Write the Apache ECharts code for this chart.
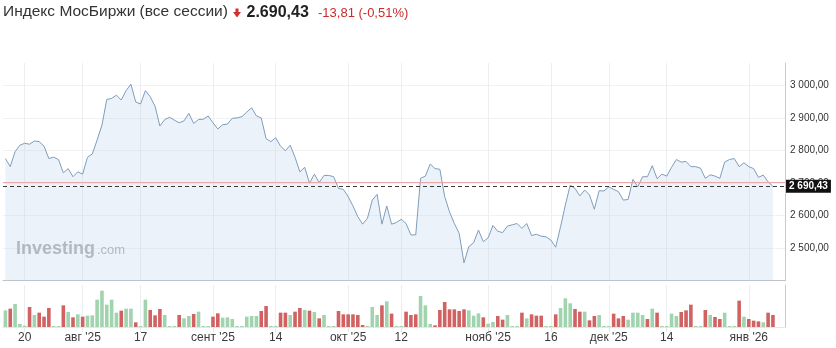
<!DOCTYPE html>
<html><head><meta charset="utf-8">
<script src="https://cdn.jsdelivr.net/npm/echarts@6/dist/echarts.min.js"></script>
<style>html,body{margin:0;padding:0;background:#fff}#c{width:836px;height:348px}</style>
</head><body><div id="c"></div>
<script>
// ---- data ----
const closes = [
  2776,2751,2797,2817,2823,2820,2830,2828,2814,2776,
  2780,2773,2732,2745,2720,2735,2728,2780,2790,2833,
  2879,2958,2961,2971,2956,2985,3005,2950,2944,2985,
  2966,2937,2876,2896,2903,2894,2886,2892,2915,2884,
  2896,2897,2907,2886,2867,2880,2882,2900,2901,2905,
  2919,2932,2907,2901,2837,2828,2840,2814,2800,2817,
  2780,2735,2749,2700,2728,2702,2724,2724,2720,2684,
  2681,2659,2630,2597,2574,2592,2648,2666,2574,2630,
  2574,2579,2589,2576,2541,2541,2715,2722,2759,2745,
  2743,2659,2612,2576,2546,2455,2505,2517,2556,2520,
  2532,2570,2552,2548,2568,2572,2576,2561,2576,2539,
  2543,2537,2535,2525,2503,2566,2633,2694,2684,2661,
  2679,2664,2620,2677,2676,2689,2681,2674,2648,2650,
  2712,2689,2720,2720,2754,2714,2728,2722,2749,2773,
  2765,2767,2751,2751,2746,2715,2726,2722,2715,2765,
  2773,2776,2751,2763,2751,2745,2718,2725,2704.24,2690.43
];
const volumes = [
  50,55,69,9,4,60,36,43,31,57,
  3,3,65,45,29,38,31,34,35,82,
  109,67,82,43,49,55,55,14,3,82,
  51,35,54,36,3,3,36,26,33,39,
  46,3,3,31,41,28,29,24,3,3,
  31,33,33,48,63,3,3,43,43,36,
  46,57,51,49,45,26,36,3,3,48,
  38,38,38,36,6,3,60,36,65,77,
  40,3,3,46,36,38,93,65,9,5,
  51,75,53,53,48,53,50,34,41,29,
  10,15,33,22,36,3,3,43,26,38,
  34,34,3,3,38,57,86,71,54,46,
  46,20,33,36,3,3,40,26,33,22,
  43,43,36,24,55,43,3,3,40,33,
  45,50,67,3,3,51,36,30,24,43,
  3,3,79,31,24,19,17,14,43,36
];
const volumeDir = [
  'u','d','u','u','u','d','u','d','d','d',
  'u','u','d','u','d','u','d','u','u','u',
  'u','u','u','u','d','u','u','d','u','u',
  'd','d','d','u','u','u','d','u','u','d',
  'u','u','u','d','d','u','u','u','u','u',
  'u','u','u','d','d','u','u','d','d','u',
  'd','d','u','d','u','d','u','u','u','d',
  'd','d','d','d','d','u','u','u','d','u',
  'd','u','u','d','d','d','u','u','u','d',
  'd','d','d','d','d','d','u','u','u','d',
  'u','u','d','d','u','u','u','d','u','d',
  'd','d','u','u','d','u','u','u','d','d',
  'u','d','d','u','u','u','d','d','d','u',
  'u','u','u','d','u','d','u','u','u','u',
  'd','d','d','u','u','d','u','d','d','u',
  'u','u','d','u','d','d','d','u','d','d'
];
const slotCount = 162;
const tickIndex = [4,16,28,43,56,71,82,100,113,125,137,154];
const tickLabels = ['20',"авг '25",'17',"сент '25",'14',"окт '25",'12',"нояб '25",'16',"дек '25",'14',"янв '26"];
const lastClose = 2690.43;
const prevClose = 2704.24;
const titleText = 'Индекс МосБиржи (все сессии)';
const priceText = '2.690,43';
const changeText = '-13,81 (-0,51%)';

// ---- chart ----
const FONT = '"Liberation Sans", Arial, sans-serif';
const cats = Array.from({length: slotCount}, (_, i) => String(i));
const isTick = (i) => tickIndex.indexOf(i) !== -1;
function fmtNum(v) {
  const s = Number(v).toFixed(2).split('.');
  const intPart = s[0].replace(/\B(?=(\d{3})+(?!\d))/g, ' ');
  return intPart + ',' + s[1];
}
const GREEN = '#a0d3ae', RED = '#d06262';
const GRID_H = '#f1f2f3';

const chart = echarts.init(document.getElementById('c'), null, {renderer: 'canvas'});
chart.setOption({
  animation: false,
  textStyle: {fontFamily: FONT},
  grid: [
    {left: 3, right: 51, top: 63, bottom: 67.3},
    {left: 3, right: 51, top: 285, bottom: 21}
  ],
  xAxis: [
    {
      type: 'category', gridIndex: 0, data: cats, boundaryGap: true,
      axisLine: {onZero: false, lineStyle: {color: '#bfc3c7'}},
      axisTick: {show: false}, axisLabel: {show: false},
      splitLine: {show: true, interval: (i) => isTick(i), alignWithLabel: true, lineStyle: {color: '#eceff2'}}
    },
    {
      type: 'category', gridIndex: 1, data: cats, boundaryGap: true,
      axisLine: {onZero: false, lineStyle: {color: '#e4e6e8'}},
      axisTick: {show: true, alignWithLabel: true, interval: (i) => isTick(i), length: 5, lineStyle: {color: '#e4e6e8'}},
      axisLabel: {
        interval: (i) => isTick(i),
        formatter: (v, i) => { const k = tickIndex.indexOf(i); return k >= 0 ? tickLabels[k] : ''; },
        color: '#3a3a3a', fontSize: 12, margin: 5, fontFamily: FONT
      },
      splitLine: {show: true, interval: (i) => isTick(i), alignWithLabel: true, lineStyle: {color: '#eceff2'}}
    }
  ],
  yAxis: [
    {
      type: 'value', gridIndex: 0, position: 'right', min: 2400, max: 3070, interval: 100,
      axisLine: {show: true, lineStyle: {color: '#c8cbce'}},
      axisTick: {show: false},
      axisLabel: {showMinLabel: false, showMaxLabel: false, formatter: (v) => fmtNum(v), color: '#333', fontSize: 10, margin: 5, fontFamily: FONT},
      splitLine: {show: true, lineStyle: {color: [GRID_H, GRID_H, GRID_H, GRID_H, GRID_H, GRID_H, GRID_H, 'rgba(0,0,0,0)']}}
    },
    {
      type: 'value', gridIndex: 1, position: 'right', min: 0, max: 126,
      axisLine: {show: true, lineStyle: {color: '#c8cbce'}},
      axisTick: {show: false}, axisLabel: {show: false}, splitLine: {show: false}
    }
  ],
  graphic: [
    {type: 'text', x: 3, y: 12, style: {text: titleText, font: '15.5px ' + FONT, fill: '#333', verticalAlign: 'middle'}},
    {type: 'polygon', shape: {points: [[235.5,8.5],[238.5,8.5],[238.5,12],[241,12],[237,17.5],[233,12],[235.5,12]]}, style: {fill: '#d32f2f'}},
    {type: 'text', x: 246.5, y: 13, style: {text: priceText, font: 'bold 16px ' + FONT, fill: '#222', verticalAlign: 'middle'}},
    {type: 'text', x: 318, y: 13.5, style: {text: changeText, font: '13px ' + FONT, fill: '#cc2b2b', verticalAlign: 'middle'}},
    {type: 'text', x: 16, y: 249, z: 1, style: {text: 'Investing', font: 'bold 18px ' + FONT, fill: '#b3b3b3', verticalAlign: 'middle'}},
    {type: 'text', x: 97, y: 250.7, z: 1, style: {text: '.com', font: '13px ' + FONT, fill: '#b3b3b3', verticalAlign: 'middle'}}
  ],
  series: [
    {
      type: 'line', xAxisIndex: 0, yAxisIndex: 0, data: closes,
      showSymbol: false, symbol: 'none', smooth: false,
      lineStyle: {width: 1, color: '#7e9dbc'},
      areaStyle: {color: 'rgba(180,205,230,0.36)', origin: 'start'},
      markLine: {
        silent: true, symbol: ['none', 'none'], animation: false,
        data: [
          {yAxis: prevClose, lineStyle: {color: '#eba8a8', type: 'solid', width: 1}, label: {show: false}},
          {yAxis: lastClose, lineStyle: {color: '#3a3a3a', type: [4, 3], width: 1},
           label: {show: true, position: 'end', distance: 1, formatter: fmtNum(lastClose),
                   backgroundColor: '#111', color: '#fff', fontWeight: 'bold', fontSize: 10,
                   padding: [2, 3, 1, 3], fontFamily: FONT}}
        ]
      }
    },
    {
      type: 'bar', xAxisIndex: 1, yAxisIndex: 1, barWidth: 3.6,
      data: volumes.map((v, i) => ({value: v, itemStyle: {color: volumeDir[i] === 'u' ? GREEN : RED}}))
    }
  ]
});
</script>
</body></html>
